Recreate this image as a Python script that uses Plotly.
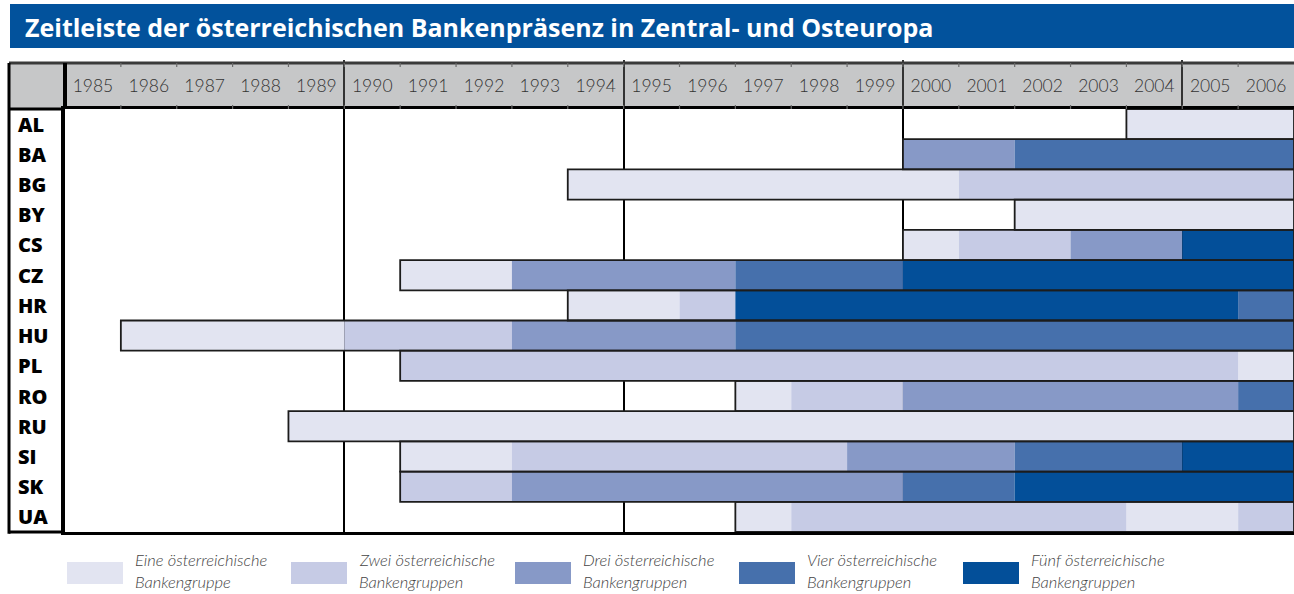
import plotly.graph_objects as go

# ---------------- data ----------------
years = list(range(1985, 2007))
countries = ["AL", "BA", "BG", "BY", "CS", "CZ", "HR", "HU", "PL", "RO", "RU", "SI", "SK", "UA"]

# number of Austrian banking groups present, per year 1985..2006 (0 = none)
AL = [0] * 19 + [1] * 3
BA = [0] * 15 + [3] * 2 + [4] * 5
BG = [0] * 9 + [1] * 7 + [2] * 6
BY = [0] * 17 + [1] * 5
CS = [0] * 15 + [1] + [2] * 2 + [3] * 2 + [5] * 2
CZ = [0] * 6 + [1] * 2 + [3] * 4 + [4] * 3 + [5] * 7
HR = [0] * 9 + [1] * 2 + [2] + [5] * 9 + [4]
HU = [0] + [1] * 4 + [2] * 3 + [3] * 4 + [4] * 10
PL = [0] * 6 + [2] * 15 + [1]
RO = [0] * 12 + [1] + [2] * 2 + [3] * 6 + [4]
RU = [0] * 4 + [1] * 18
SI = [0] * 6 + [1] * 2 + [2] * 6 + [3] * 3 + [4] * 3 + [5] * 2
SK = [0] * 6 + [2] * 2 + [3] * 7 + [4] * 2 + [5] * 5
UA = [0] * 12 + [1] + [2] * 6 + [1] * 2 + [2]

presence = {"AL": AL, "BA": BA, "BG": BG, "BY": BY, "CS": CS, "CZ": CZ, "HR": HR,
            "HU": HU, "PL": PL, "RO": RO, "RU": RU, "SI": SI, "SK": SK, "UA": UA}

level_names = [
    ["Eine österreichische", "Bankengruppe"],
    ["Zwei österreichische", "Bankengruppen"],
    ["Drei österreichische", "Bankengruppen"],
    ["Vier österreichische", "Bankengruppen"],
    ["Fünf österreichische", "Bankengruppen"],
]
title_text = "Zeitleiste der österreichischen Bankenpräsenz in Zentral- und Osteuropa"

# ---------------- styling ----------------
level_colors = ["#E2E4F1", "#C6CBE5", "#8799C7", "#4670AC", "#034F99"]
W, H = 1294, 594
L, R, T, B = 65, 0, 109, 62
PW, PH = W - L - R, H - T - B


def px(p):
    return (p - L) / PW


def py(p):
    return (H - B - p) / PH


# ---------------- segments ----------------
segs = {lvl: {"y": [], "base": [], "len": []} for lvl in range(1, 6)}
first_year = []
for c in countries:
    vals = presence[c]
    start = None
    for i, v in enumerate(vals):
        if v == 0:
            continue
        if start is None:
            start = years[i]
        if i == 0 or vals[i - 1] != v:
            segs[v]["y"].append(c)
            segs[v]["base"].append(years[i])
            segs[v]["len"].append(1)
        else:
            segs[v]["len"][-1] += 1
    first_year.append(start)

fig = go.Figure()
for lvl in range(1, 6):
    s = segs[lvl]
    fig.add_trace(go.Bar(
        orientation="h", y=s["y"], x=s["len"], base=s["base"], width=1,
        marker=dict(color=level_colors[lvl - 1], line=dict(width=0)),
        name=" ".join(level_names[lvl - 1]), showlegend=False, hoverinfo="skip"))

# outline of the whole presence span of each country
fig.add_trace(go.Bar(
    orientation="h", y=countries, x=[2007 - f for f in first_year], base=first_year, width=1,
    marker=dict(color="rgba(0,0,0,0)", line=dict(color="#1c1c1c", width=1.8)),
    showlegend=False, hoverinfo="skip"))

HEAD_TOP = 63
shapes = []
# title band
shapes.append(dict(type="rect", xref="paper", yref="paper", x0=px(10), x1=px(W), y0=py(48), y1=py(4),
                   fillcolor="#02529C", line=dict(width=0), layer="below"))
# header band
shapes.append(dict(type="rect", xref="paper", yref="paper", x0=px(9), x1=px(W), y0=1, y1=py(HEAD_TOP),
                   fillcolor="#C6C7C8", line=dict(width=0), layer="below"))
# header top line
shapes.append(dict(type="line", xref="paper", yref="paper", x0=px(9), x1=px(W), y0=py(HEAD_TOP),
                   y1=py(HEAD_TOP), line=dict(color="#3a3a3a", width=3)))
# small year-boundary marks in the header
for yr in years[1:]:
    for y0p, y1p in ((HEAD_TOP, HEAD_TOP + 4), (T - 4, T)):
        shapes.append(dict(type="line", xref="x", yref="paper", x0=yr, x1=yr, y0=py(y0p), y1=py(y1p),
                           line=dict(color="#6a6a6a", width=1.2)))
# label column borders
shapes.append(dict(type="line", xref="paper", yref="paper", x0=px(9), x1=px(9), y0=-0.004, y1=py(HEAD_TOP),
                   line=dict(color="black", width=3)))
shapes.append(dict(type="line", xref="paper", yref="paper", x0=0, x1=0, y0=1, y1=py(HEAD_TOP),
                   line=dict(color="black", width=4)))
shapes.append(dict(type="line", xref="paper", yref="paper", x0=px(9), x1=0, y0=1, y1=1,
                   line=dict(color="black", width=3)))
shapes.append(dict(type="line", xref="paper", yref="paper", x0=px(9), x1=0, y0=0, y1=0,
                   line=dict(color="black", width=3)))

annotations = []
annotations.append(dict(text=title_text, xref="paper", yref="paper", x=px(23), y=py(27),
                        xanchor="left", yanchor="middle", showarrow=False,
                        font=dict(family="Open Sans", size=25, color="white", weight="bold")))
for c in countries:
    annotations.append(dict(text=c, xref="paper", yref="y", x=px(16), y=c, xanchor="left",
                            yanchor="middle", showarrow=False,
                            font=dict(family="Open Sans", size=20, color="black", weight=800)))

# custom legend
for i in range(5):
    x0 = 67 + 224 * i
    shapes.append(dict(type="rect", xref="paper", yref="paper", x0=px(x0), x1=px(x0 + 56),
                       y0=py(584), y1=py(562), fillcolor=level_colors[i], line=dict(width=0)))
    for j, line_txt in enumerate(level_names[i]):
        annotations.append(dict(text="<i>" + line_txt + "</i>", xref="paper", yref="paper",
                                x=px(x0 + 66), y=py(560 + 22 * j), xanchor="left", yanchor="middle",
                                showarrow=False,
                                font=dict(family="Lato", size=16.5, color="#444444", weight=300)))

fig.update_layout(
    width=W, height=H, margin=dict(l=L, r=R, t=T, b=B),
    paper_bgcolor="white", plot_bgcolor="white", barmode="overlay",
    shapes=shapes, annotations=annotations, showlegend=False,
    xaxis=dict(range=[1985, 2007], side="top", tickvals=[y + 0.5 for y in years],
               ticktext=[str(y) for y in years], ticks="", showgrid=False, zeroline=False,
               showline=True, linecolor="black", linewidth=3, mirror=True,
               ticklabelstandoff=7,
               tickfont=dict(family="Lato", size=17.5, color="#333333", weight=300),
               minor=dict(tickvals=[1990, 1995, 2000, 2005], showgrid=True, gridcolor="black",
                          gridwidth=2, ticks="outside", ticklen=T - HEAD_TOP, tickcolor="#333333",
                          tickwidth=2)),
    yaxis=dict(type="category", categoryorder="array", categoryarray=countries,
               range=[13.5, -0.5], showticklabels=False, ticks="", showgrid=False, zeroline=False,
               showline=True, linecolor="black", linewidth=4),
)

fig.write_html("out.html", config={"displayModeBar": False},
               post_script="document.body.style.margin='0px';document.body.style.overflow='hidden';")
